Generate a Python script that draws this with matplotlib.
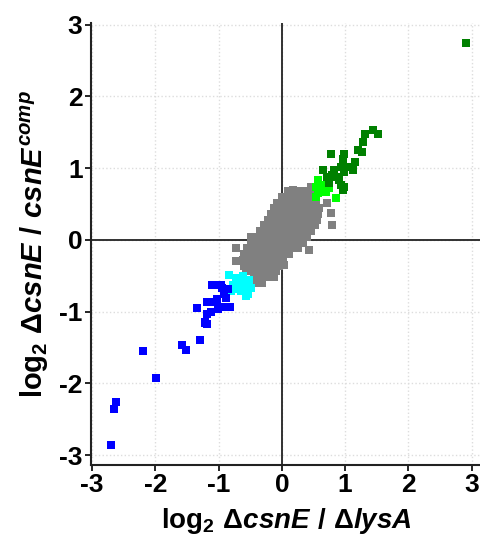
"""
Scatter of log2 fold changes: csnE deletion vs lysA deletion (x) against
csnE deletion vs complemented strain (y), coloured by response group.
"""

import matplotlib

matplotlib.use("Agg")
import matplotlib.pyplot as plt

plt.rcParams["font.family"] = ["Liberation Sans", "DejaVu Sans"]
plt.rcParams["axes.unicode_minus"] = False
plt.rcParams["mathtext.fontset"] = "custom"
plt.rcParams["mathtext.rm"] = "Liberation Sans:bold"
plt.rcParams["mathtext.bf"] = "Liberation Sans:bold"
plt.rcParams["mathtext.it"] = "Liberation Sans:bold:italic"

# --- bulk of unchanged genes (gray) ---
GRAY_ROWS = [
    (0.68, [0.10, 0.18, 0.26, 0.34, 0.44]),
    (0.60, [0.0, 0.08, 0.16, 0.24, 0.32, 0.40, 0.48]),
    (0.52, [-0.08, 0.0, 0.08, 0.16, 0.24, 0.32, 0.40, 0.48, 0.54]),
    (0.44, [-0.12, -0.04, 0.04, 0.12, 0.20, 0.28, 0.36, 0.44, 0.52, 0.58]),
    (0.36, [-0.17, -0.09, -0.01, 0.07, 0.15, 0.23, 0.31, 0.39, 0.47, 0.57]),
    (0.28, [-0.22, -0.14, -0.06, 0.02, 0.10, 0.18, 0.26, 0.34, 0.42, 0.50, 0.56]),
    (0.20, [-0.28, -0.20, -0.12, -0.04, 0.04, 0.12, 0.20, 0.28, 0.36, 0.44, 0.52]),
    (0.12, [-0.34, -0.26, -0.18, -0.10, -0.02, 0.06, 0.14, 0.22, 0.30, 0.38, 0.46]),
    (0.04, [-0.40, -0.32, -0.24, -0.16, -0.08, 0.0, 0.08, 0.16, 0.24, 0.32, 0.40]),
    (-0.04, [-0.48, -0.40, -0.32, -0.24, -0.16, -0.08, 0.0, 0.08, 0.16, 0.24, 0.33]),
    (-0.12, [-0.55, -0.47, -0.39, -0.31, -0.23, -0.15, -0.07, 0.01, 0.09, 0.17, 0.25]),
    (-0.20, [-0.60, -0.52, -0.44, -0.36, -0.28, -0.20, -0.12, -0.04, 0.04, 0.12]),
    (-0.28, [-0.61, -0.53, -0.45, -0.37, -0.29, -0.21, -0.13, -0.05, 0.02]),
    (-0.36, [-0.60, -0.52, -0.44, -0.36, -0.28, -0.20, -0.12, -0.04]),
    (-0.44, [-0.56, -0.48, -0.40, -0.32, -0.24, -0.16, -0.09]),
    (-0.52, [-0.44, -0.36, -0.28, -0.20, -0.12]),
    (-0.60, [-0.40, -0.32]),
]
gray_out_x = [-0.73, -0.72, -0.49, 0.78, 0.79, 0.43, 0.03, -0.32, 0.46, 0.17, 0.72]
gray_out_y = [-0.11, -0.30, 0.04, 0.37, 0.20, -0.14, -0.35, -0.60, 0.74, 0.69, 0.51]

# --- strongly down (blue) ---
blue_x = [-2.20, -1.99, -1.58, -1.51, -1.29, -1.34, -1.22, -1.18, -1.19, -1.18,
          -1.12, -1.10, -1.02, -1.01, -0.94, -0.92, -0.86, -0.82, -0.89, -0.85,
          -1.03, -0.97, -1.21, -1.05, -0.94, -2.63, -2.66, -2.71]
blue_y = [-1.55, -1.93, -1.46, -1.54, -1.40, -0.95, -1.16, -1.17, -1.03, -0.87,
          -1.00, -0.63, -0.83, -0.97, -0.67, -0.76, -0.93, -0.93, -0.81, -0.69,
          -0.63, -0.63, -1.15, -0.86, -0.93, -2.26, -2.36, -2.86]

# --- moderately down (cyan) ---
cyan_x = [-0.84, -0.78, -0.73, -0.68, -0.62, -0.60, -0.54, -0.52, -0.57, -0.81,
          -0.76, -0.49, -0.65, -0.68, -0.60]
cyan_y = [-0.49, -0.63, -0.53, -0.58, -0.51, -0.65, -0.76, -0.56, -0.79, -0.72,
          -0.69, -0.67, -0.72, -0.67, -0.56]

# --- moderately up (lime) ---
lime_x = [0.57, 0.54, 0.59, 0.67, 0.70, 0.62, 0.75, 0.86, 0.54, 0.72, 0.57]
lime_y = [0.83, 0.74, 0.67, 0.74, 0.67, 0.76, 0.72, 0.58, 0.60, 0.79, 0.65]

# --- strongly up (dark green) ---
green_x = [1.31, 1.44, 1.52, 1.28, 1.20, 1.27, 0.99, 0.96, 0.78, 1.15, 0.94, 1.07,
           1.12, 0.83, 0.99, 0.80, 0.86, 0.91, 0.94, 0.99, 0.96, 0.72, 0.75, 0.65,
           2.91]
green_y = [1.47, 1.53, 1.47, 1.37, 1.25, 1.23, 1.20, 1.13, 1.19, 1.09, 1.02, 1.02,
           0.97, 0.97, 0.95, 0.90, 0.88, 0.83, 0.76, 0.74, 0.69, 0.88, 0.79, 0.97,
           2.74]

TICKS = [-3, -2, -1, 0, 1, 2, 3]


def main() -> None:
    gray_x = [x for _, xs in GRAY_ROWS for x in xs] + gray_out_x
    gray_y = [y for y, xs in GRAY_ROWS for _ in xs] + gray_out_y

    fig = plt.figure(figsize=(4.81, 5.44), dpi=100)
    ax = fig.add_axes([0.189, 0.145, 0.811, 0.8125])

    ax.set_xlim(-3.02, 3.15)
    ax.set_ylim(-3.14, 3.02)
    ax.set_xticks(TICKS)
    ax.set_yticks(TICKS)
    ax.grid(True, color="#dddddd", linestyle=":", linewidth=1.0)
    ax.set_axisbelow(True)
    ax.axhline(0, color="#222222", linewidth=1.3, zorder=1)
    ax.axvline(0, color="#222222", linewidth=1.3, zorder=1)

    size = 27
    ax.scatter(gray_x, gray_y, s=size, marker="s", color="#808080", linewidths=0, zorder=2)
    ax.scatter(cyan_x, cyan_y, s=size, marker="s", color="#00ffff", linewidths=0, zorder=3)
    ax.scatter(blue_x, blue_y, s=size, marker="s", color="#0000ff", linewidths=0, zorder=3)
    ax.scatter(lime_x, lime_y, s=size, marker="s", color="#00ff00", linewidths=0, zorder=3)
    ax.scatter(green_x, green_y, s=size, marker="s", color="#008000", linewidths=0, zorder=3)

    for side in ("top", "right"):
        ax.spines[side].set_visible(False)
    for side in ("left", "bottom"):
        ax.spines[side].set_linewidth(1.5)
        ax.spines[side].set_color("#222222")
    ax.tick_params(length=4, width=1.2, labelsize=19, pad=2)
    for lab in ax.get_xticklabels() + ax.get_yticklabels():
        lab.set_fontweight("bold")

    ax.set_xlabel(r"$\mathrm{log_2}\ \Delta\mathit{csnE}\ /\ \Delta\mathit{lysA}$",
                  fontsize=20, labelpad=6)
    ax.set_ylabel(r"$\mathrm{log_2}\ \Delta\mathit{csnE}\ /\ \mathit{csnE}^{\mathit{comp}}$",
                  fontsize=21, labelpad=6)

    fig.savefig("out.png", dpi=100)


if __name__ == "__main__":
    main()
